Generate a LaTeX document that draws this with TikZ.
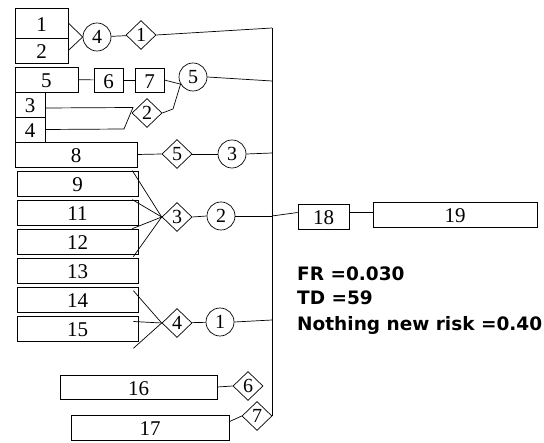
\documentclass[tikz,border=0pt]{standalone}
\usepackage{fontspec}
\setmainfont{Liberation Serif}
\newfontfamily\notefont{DejaVu Sans}
\usetikzlibrary{shapes.geometric,calc}

\tikzset{
  link/.style={line width=0.7pt},
  box/.style={draw,line width=0.7pt,inner sep=0pt,text height=17pt,text depth=0pt,font=\fontsize{21}{21}\selectfont},
  circ/.style={draw,line width=0.7pt,circle,minimum size=28pt,inner sep=0pt,font=\fontsize{20}{20}\selectfont},
  diam/.style={draw,line width=0.7pt,diamond,aspect=1,minimum width=30pt,minimum height=29pt,inner sep=0pt,font=\fontsize{20}{20}\selectfont},
  note/.style={anchor=base west,inner sep=0pt,font=\notefont\bfseries\fontsize{18.5}{18.5}\selectfont}
}

\begin{document}
\begin{tikzpicture}[x=1pt,y=-1pt]
  \useasboundingbox (0,0) rectangle (544,443);

  % trunk
  \coordinate (top) at (272,28);
  \coordinate (bot) at (272,416);
  \draw[link] (top) -- (bot);
  \foreach \nm/\y in {j2/81,j3/153,j4/216,j5/320}
    \coordinate (\nm) at (272,\y);

  % branch 1
  \node[box,minimum width=53pt,minimum height=30pt] (b1) at (41.5,23) {1};
  \node[box,minimum width=53pt,minimum height=25pt] (b2) at (41.5,50.5) {2};
  \node[circ] (c4) at (97,37) {4};
  \node[diam] (d1) at (141,35) {1};
  \draw[link] (b1.east) -- (c4.west) -- (b2.east);
  \draw[link] (c4) -- (d1);
  \draw[link] (d1.east) -- (top);

  % branch 2
  \node[box,minimum width=63pt,minimum height=25pt] (b5) at (46.5,79.5) {5};
  \node[box,minimum width=29pt,minimum height=24pt] (b6) at (108.5,80) {6};
  \node[box,minimum width=29pt,minimum height=24pt] (b7) at (149.5,80) {7};
  \node[box,minimum width=30pt,minimum height=25pt] (b3) at (30,104.5) {3};
  \node[box,minimum width=30pt,minimum height=25pt] (b4) at (30,129.5) {4};
  \node[circ] (c5) at (193,77) {5};
  \node[diam] (d2) at (147,113) {2};
  \coordinate (m1) at (133,107.5);
  \coordinate (m2) at (124,129);
  \coordinate (k2) at (173,109);
  \draw[link] (b5) -- (b6);
  \draw[link] (b6.east) -- (b7.west);
  \draw[link] (b7.east) -- (c5.210);
  \draw[link] (c5.east) -- (j2);
  \draw[link] ($(b3.east)+(0,3.5)$) -- (m1) -- (m2) -- (b4.east);
  \draw[link] (d2.east) -- (k2) -- (c5.210);

  % branch 3
  \node[box,minimum width=122pt,minimum height=25pt] (b8) at (76,154.5) {8};
  \node[diam] (d5) at (177,154) {5};
  \node[circ] (c3) at (232,154) {3};
  \draw[link] (b8.east) -- (d5.west);
  \draw[link] (d5) -- (c3);
  \draw[link] (c3.east) -- (j3);

  % stacked boxes
  \foreach \nm/\k in {9/0,11/1,12/2,13/3,14/4,15/5}
    \node[box,minimum width=121pt,minimum height=25pt] (b\nm) at (77.5,183.5+29*\k) {\nm};

  % branch 4
  \node[diam] (d3) at (177,217) {3};
  \node[circ] (c2) at (221,216) {2};
  \foreach \nm in {9,11,12}
    \draw[link] ($(b\nm.north east)+(-6,0)$) -- (d3.west);
  \draw[link] ($(b13.north east)+(-5,-1)$) -- (d3.west);
  \draw[link] (d3.east) -- (c2.west);
  \draw[link] (c2.east) -- (j4);

  % outcome
  \node[box,minimum width=51pt,minimum height=25pt] (b18) at (323.5,216.5) {18};
  \node[box,minimum width=164pt,minimum height=25pt] (b19) at (455,214.5) {19};
  \draw[link] (j4) -- ($(b18.west)+(0,-4)$);
  \draw[link] ($(b18.east)+(0,-4)$) -- ($(b19.west)+(0,-2)$);

  % branch 5
  \node[diam] (d4) at (177,323) {4};
  \node[circ] (c1) at (220,322) {1};
  \draw[link] ($(b14.north east)+(-5,4)$) -- (d4.west);
  \draw[link] ($(b15.east)+(-5,-7)$) -- (d4.west);
  \draw[link] ($(b15.south east)+(-5,7)$) -- (d4.west);
  \draw[link] (d4) -- (c1);
  \draw[link] (c1.east) -- (j5);

  % branch 6 and 7
  \node[box,minimum width=157pt,minimum height=24pt] (b16) at (138.5,387) {16};
  \node[diam] (d6) at (248,386) {6};
  \draw[link] (b16.east) -- (d6.west);
  \node[box,minimum width=158pt,minimum height=25pt] (b17) at (150,427.5) {17};
  \node[diam] (d7) at (257,416) {7};
  \draw[link] ($(b17.north east)+(0,7)$) -- (d7.west);

  % results
  \node[note] (fr) at (297,280.5) {FR =0.030};
  \node[note] (td) at (297,305) {TD =59};
  \node[note] (nr) at (297,330.5) {Nothing new risk =0.40};
\end{tikzpicture}
\end{document}
